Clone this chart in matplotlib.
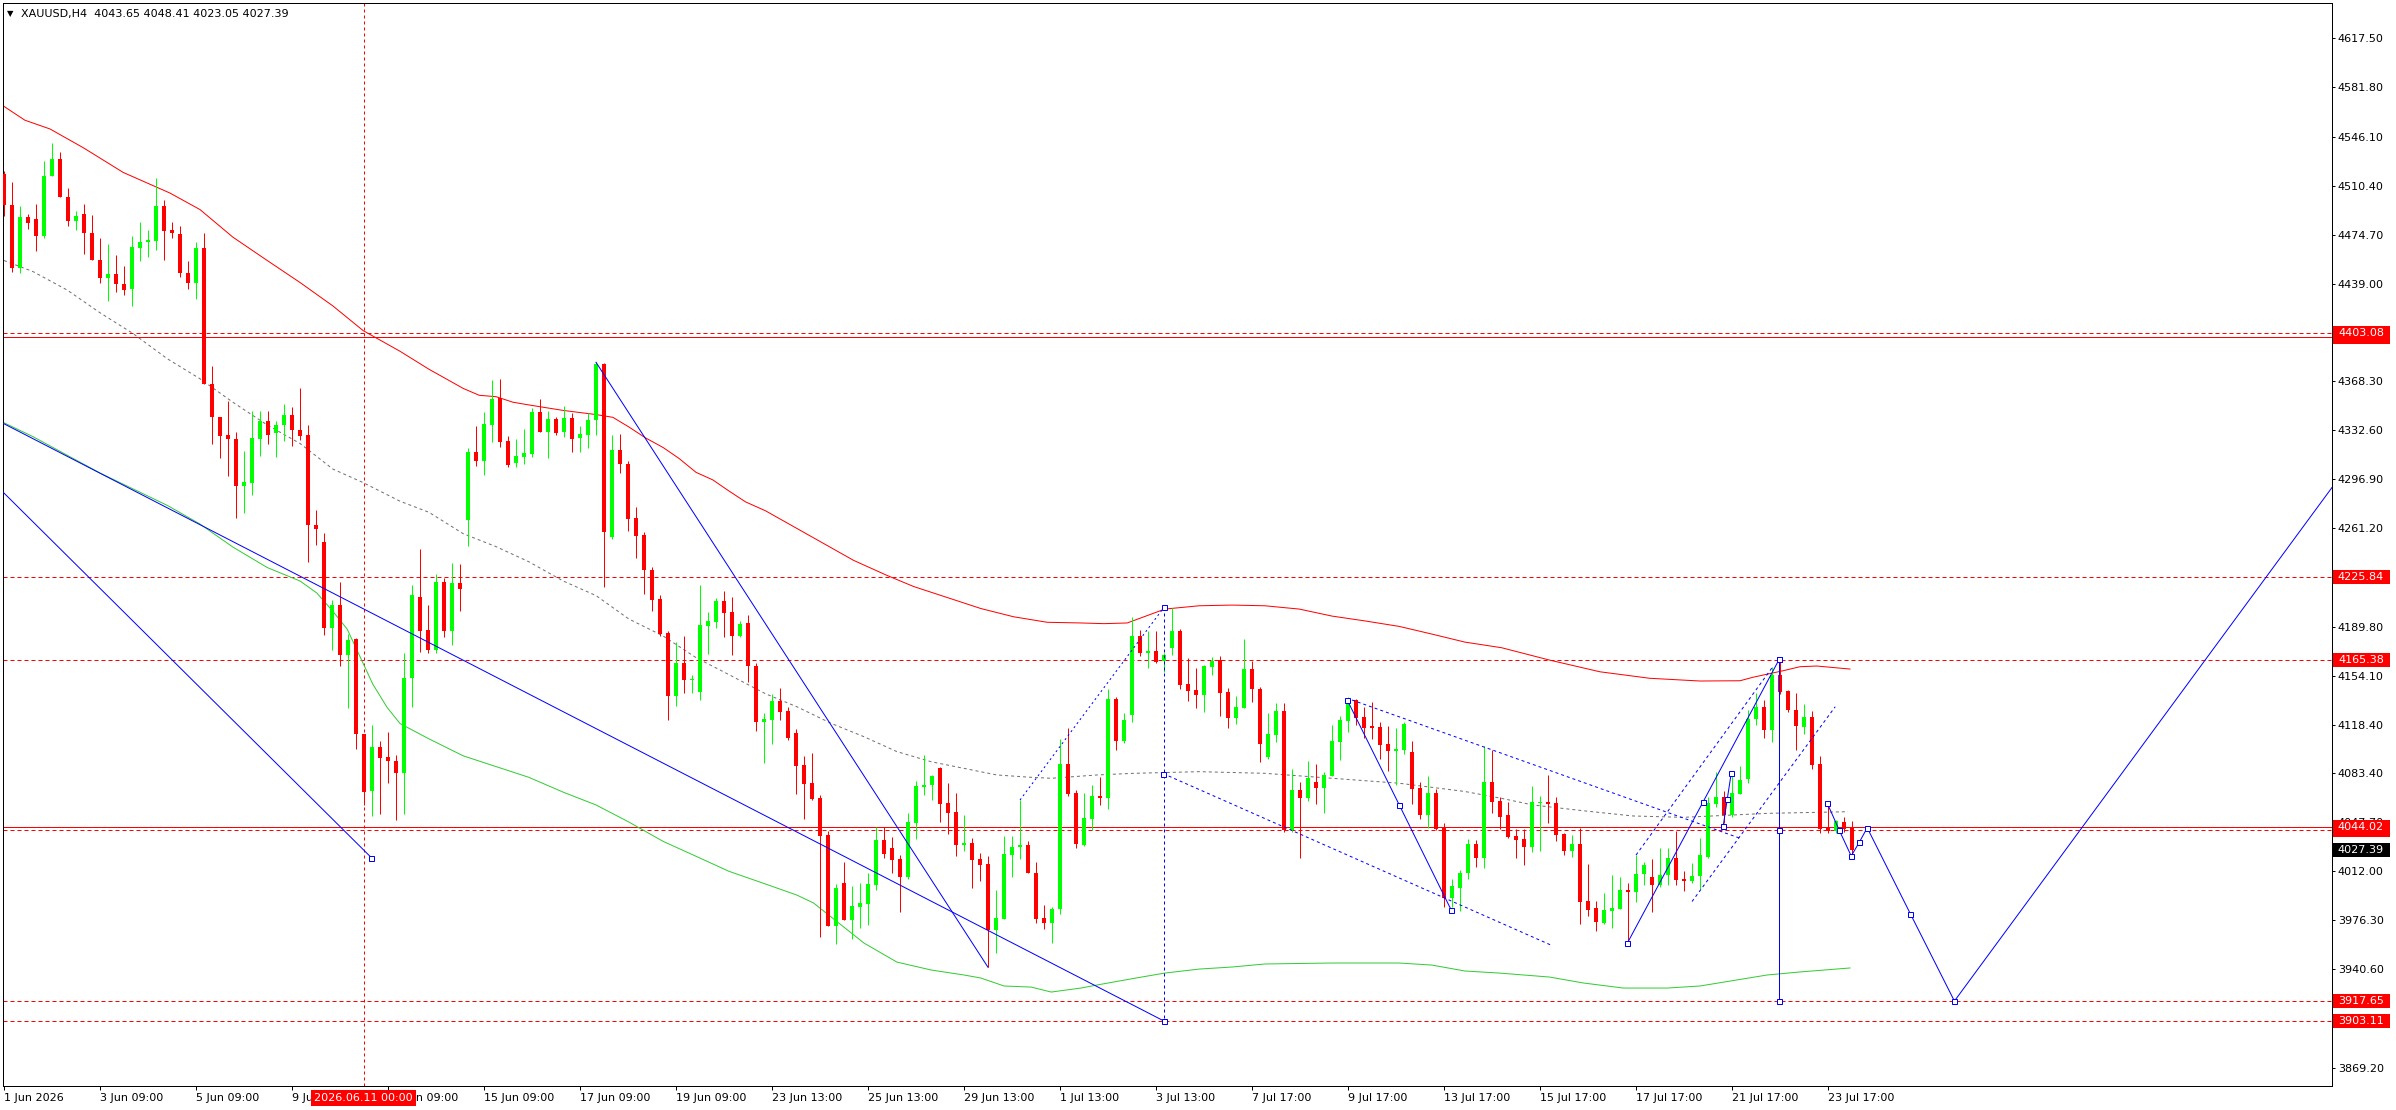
import numpy as np
import matplotlib
matplotlib.use("Agg")
import matplotlib.pyplot as plt
import matplotlib.transforms as mtransforms
from matplotlib.patches import Rectangle

W, H = 2396, 1110
PX = 0.72  # one screen pixel in points at dpi 100
BULL = "#00ff00"
BEAR = "#ff0000"
BLUE = "#0000ff"

symbol = "XAUUSD,H4"
last_ohlc = [4043.65, 4048.41, 4023.05, 4027.39]

# 4H candles, oldest first
opens = [
    4518.7, 4496.4, 4450.3, 4487.7, 4486.0, 4474.0, 4517.1, 4529.7, 4502.4, 4484.4,
    4490.0, 4476.0, 4456.7, 4443.0, 4446.3, 4439.0, 4435.6, 4465.4, 4469.4, 4470.4,
    4495.7, 4478.0, 4475.4, 4447.0, 4440.0, 4465.0, 4366.2, 4342.2, 4329.2, 4326.2,
    4291.8, 4294.5, 4326.5, 4339.2, 4330.9, 4336.5, 4343.5, 4332.5, 4329.2, 4263.8,
    4251.5, 4188.7, 4205.7, 4169.4, 4180.7, 4112.0, 4070.3, 4102.6, 4095.0, 4092.3,
    4083.4, 4152.4, 4211.4, 4187.5, 4173.2, 4222.3, 4186.3, 4221.7, 4267.6, 4316.7,
    4309.9, 4336.6, 4355.9, 4324.8, 4308.7, 4313.0, 4315.5, 4346.2, 4331.6, 4340.6,
    4331.6, 4341.6, 4326.7, 4329.5, 4339.7, 4380.4, 4254.9, 4318.3, 4308.0, 4268.9,
    4256.5, 4231.0, 4209.9, 4185.0, 4139.7, 4163.3, 4151.2, 4142.5, 4190.6, 4193.4,
    4208.6, 4200.5, 4182.8, 4192.5, 4161.1, 4120.7, 4122.2, 4135.8, 4128.5, 4112.5,
    4089.2, 4076.2, 4065.3, 4038.3, 3972.4, 4003.5, 3976.8, 3986.3, 3988.4, 4002.0,
    4034.7, 4028.9, 4020.9, 4008.1, 4047.3, 4073.5, 4075.0, 4087.1, 4061.6, 4055.1,
    4031.3, 4032.5, 4020.9, 4017.3, 3969.3, 3977.5, 4024.1, 4029.4, 4031.1, 4011.0,
    3978.0, 3974.1, 3984.3, 4090.0, 4068.9, 4031.1, 4050.2, 4066.7, 4065.5, 4137.2,
    4106.9, 4125.3, 4183.0, 4170.9, 4172.1, 4164.6, 4174.5, 4186.6, 4148.1, 4143.8,
    4140.2, 4160.7, 4165.3, 4142.3, 4123.6, 4130.9, 4159.0, 4144.5, 4095.1, 4111.0,
    4128.5, 4042.2, 4071.1, 4065.5, 4076.9, 4072.8, 4081.5, 4106.2, 4121.5, 4136.5,
    4124.1, 4117.6, 4116.9, 4104.3, 4099.7, 4100.1, 4098.7, 4072.5, 4053.1, 4069.1,
    4043.9, 3992.8, 4000.1, 4010.5, 4031.8, 4021.9, 4076.9, 4063.1, 4052.9, 4037.6,
    4035.4, 4029.6, 4061.4, 4062.6, 4061.6, 4039.3, 4027.0, 4031.8, 3990.1, 3985.0,
    3974.6, 3983.4, 3984.6, 3998.1, 3996.9, 4010.0, 4008.1, 4002.0, 4009.0, 4021.9,
    4006.4, 4004.9, 4008.5, 4022.6, 4060.9, 4066.0, 4052.9, 4068.4, 4078.8, 4122.4,
    4131.6, 4114.7, 4154.7, 4143.0, 4129.2, 4117.1, 4124.4, 4089.9, 4043.7, 4041.5,
    4047.8, 4043.65,
]
highs = [
    4521.0, 4513.1, 4495.7, 4489.7, 4497.0, 4528.1, 4541.4, 4534.8, 4508.7, 4491.7,
    4497.0, 4489.0, 4472.0, 4468.0, 4460.0, 4452.3, 4473.7, 4484.0, 4478.0, 4516.1,
    4499.7, 4484.0, 4481.4, 4455.3, 4469.4, 4476.0, 4379.6, 4342.2, 4353.9, 4331.2,
    4317.5, 4346.6, 4346.6, 4346.6, 4339.2, 4351.9, 4349.2, 4363.2, 4336.5, 4274.5,
    4258.1, 4209.4, 4222.1, 4184.4, 4181.7, 4112.0, 4118.3, 4107.0, 4113.3, 4096.6,
    4170.4, 4220.1, 4246.2, 4205.5, 4228.2, 4225.4, 4236.0, 4235.3, 4319.5, 4335.7,
    4345.9, 4369.2, 4370.2, 4328.5, 4326.4, 4333.5, 4349.0, 4355.2, 4346.9, 4342.5,
    4350.3, 4345.3, 4335.7, 4345.3, 4382.3, 4381.5, 4328.8, 4329.8, 4310.2, 4276.7,
    4258.3, 4233.2, 4212.7, 4186.6, 4178.5, 4182.8, 4154.9, 4220.4, 4200.5, 4210.8,
    4216.1, 4211.4, 4194.0, 4198.4, 4163.3, 4126.9, 4140.6, 4145.2, 4131.4, 4115.4,
    4095.8, 4098.0, 4067.4, 4041.5, 4003.0, 4018.7, 4001.5, 4003.2, 4010.5, 4044.4,
    4044.4, 4037.1, 4024.1, 4054.1, 4077.9, 4096.5, 4082.2, 4088.0, 4076.2, 4068.9,
    4052.9, 4036.2, 4025.3, 4023.1, 3998.4, 4037.9, 4037.9, 4063.8, 4034.0, 4019.0,
    3987.5, 3986.3, 4108.1, 4115.9, 4071.1, 4068.9, 4074.7, 4080.3, 4144.5, 4138.9,
    4127.0, 4196.6, 4187.4, 4186.6, 4186.6, 4170.4, 4203.1, 4187.9, 4166.8, 4159.8,
    4161.9, 4167.8, 4168.5, 4145.2, 4139.4, 4180.8, 4164.8, 4146.2, 4127.0, 4134.5,
    4134.5, 4086.3, 4077.1, 4091.9, 4090.2, 4084.4, 4118.3, 4125.1, 4138.4, 4137.5,
    4131.4, 4135.0, 4120.5, 4117.8, 4116.1, 4120.3, 4106.7, 4077.1, 4081.5, 4071.5,
    4047.1, 4006.4, 4012.9, 4035.2, 4034.5, 4103.3, 4100.4, 4066.2, 4062.6, 4042.5,
    4042.5, 4074.2, 4066.7, 4082.0, 4066.0, 4040.0, 4038.4, 4043.2, 4017.0, 3990.1,
    3996.0, 4009.0, 4007.6, 4003.2, 4023.8, 4018.5, 4021.1, 4028.9, 4028.7, 4041.3,
    4012.4, 4018.0, 4035.9, 4066.2, 4083.9, 4070.1, 4083.2, 4088.5, 4129.2, 4141.3,
    4136.5, 4160.7, 4165.4, 4143.5, 4141.3, 4133.6, 4128.5, 4096.0, 4061.4, 4049.2,
    4051.4, 4048.41,
]
lows = [
    4488.7, 4447.9, 4447.0, 4479.0, 4462.7, 4472.0, 4517.1, 4502.4, 4481.4, 4478.0,
    4461.0, 4456.7, 4439.6, 4426.3, 4433.3, 4430.6, 4422.6, 4455.3, 4458.3, 4463.7,
    4456.7, 4472.7, 4444.3, 4435.0, 4428.3, 4365.9, 4322.9, 4312.2, 4299.5, 4268.5,
    4272.8, 4285.8, 4314.2, 4322.9, 4312.9, 4324.5, 4320.9, 4325.2, 4236.8, 4249.5,
    4183.4, 4172.7, 4161.0, 4131.0, 4100.9, 4060.0, 4052.0, 4053.3, 4076.0, 4049.3,
    4053.3, 4131.6, 4171.7, 4171.0, 4170.4, 4182.5, 4176.6, 4201.5, 4248.7, 4306.5,
    4300.3, 4324.2, 4320.1, 4305.6, 4305.6, 4307.7, 4313.3, 4331.6, 4312.4, 4329.5,
    4327.6, 4316.7, 4316.7, 4319.5, 4329.5, 4218.6, 4253.4, 4301.5, 4259.0, 4240.0,
    4213.9, 4200.9, 4182.8, 4121.6, 4132.5, 4141.8, 4141.8, 4136.2, 4170.1, 4188.7,
    4182.5, 4169.5, 4182.5, 4149.9, 4114.2, 4090.9, 4104.8, 4121.9, 4107.2, 4068.4,
    4050.2, 4064.0, 3964.4, 3972.4, 3958.9, 3976.8, 3962.5, 3971.0, 3972.9, 3998.4,
    4021.9, 4010.5, 3982.6, 4006.4, 4035.7, 4067.4, 4063.8, 4048.0, 4039.3, 4023.3,
    4027.0, 4000.1, 4004.9, 3942.2, 3952.3, 3977.5, 4008.1, 4020.7, 4010.5, 3974.1,
    3969.8, 3959.6, 3980.7, 4067.0, 4028.7, 4030.4, 4042.0, 4060.2, 4057.5, 4100.1,
    4105.2, 4120.7, 4168.5, 4160.0, 4163.1, 4157.1, 4169.2, 4144.2, 4135.8, 4130.9,
    4128.0, 4154.6, 4124.9, 4116.4, 4119.3, 4130.9, 4135.3, 4091.7, 4093.6, 4106.2,
    4040.8, 4040.3, 4021.4, 4062.8, 4060.9, 4054.1, 4081.5, 4092.9, 4113.5, 4118.3,
    4108.6, 4108.4, 4093.8, 4085.1, 4074.5, 4097.5, 4060.9, 4050.0, 4043.7, 4042.0,
    3985.8, 3985.8, 3983.4, 4006.1, 4015.1, 4014.6, 4054.1, 4043.0, 4035.9, 4021.9,
    4016.5, 4026.2, 4027.0, 4047.3, 4033.7, 4023.8, 4022.6, 3973.4, 3979.7, 3968.8,
    3973.6, 3970.5, 3984.6, 3959.6, 3989.9, 4002.0, 3982.6, 4000.8, 4002.0, 4002.0,
    3997.9, 4003.2, 3999.3, 4021.4, 4059.0, 4046.8, 4051.7, 4067.9, 4076.4, 4118.5,
    4109.1, 4106.2, 4141.0, 4128.0, 4100.1, 4111.8, 4086.3, 4040.0, 4040.0, 4040.0,
    4040.3, 4023.05,
]
closes = [
    4496.4, 4450.3, 4487.7, 4483.0, 4474.0, 4517.4, 4529.7, 4502.4, 4484.4, 4488.4,
    4475.7, 4456.7, 4443.3, 4446.0, 4439.0, 4434.6, 4465.7, 4469.4, 4471.0, 4495.7,
    4477.7, 4476.0, 4446.7, 4440.0, 4465.0, 4365.9, 4341.9, 4328.2, 4325.9, 4291.8,
    4294.8, 4326.9, 4339.2, 4329.2, 4336.5, 4343.9, 4332.5, 4328.5, 4263.5, 4260.5,
    4188.7, 4205.7, 4169.4, 4180.0, 4111.6, 4069.3, 4102.6, 4094.3, 4092.3, 4083.6,
    4152.4, 4212.7, 4186.9, 4173.2, 4222.3, 4186.3, 4221.7, 4217.0, 4316.7, 4309.9,
    4337.2, 4355.2, 4323.9, 4307.4, 4313.9, 4316.1, 4346.2, 4331.6, 4340.6, 4330.7,
    4341.6, 4326.4, 4329.8, 4339.7, 4380.4, 4258.3, 4318.3, 4307.7, 4268.3, 4255.8,
    4230.7, 4209.5, 4184.4, 4139.7, 4163.3, 4151.2, 4151.8, 4190.9, 4194.0, 4208.6,
    4199.6, 4182.8, 4191.8, 4161.1, 4120.7, 4122.6, 4135.8, 4128.0, 4109.1, 4088.7,
    4075.7, 4064.5, 4037.9, 3972.4, 3999.6, 3976.8, 3986.7, 3988.7, 4002.7, 4034.7,
    4024.8, 4020.2, 4008.1, 4047.8, 4074.0, 4074.5, 4081.2, 4061.1, 4054.6, 4031.3,
    4032.3, 4020.4, 4016.8, 3969.3, 3977.8, 4024.5, 4029.9, 4030.8, 4010.5, 3977.5,
    3974.1, 3984.6, 4090.0, 4068.4, 4031.8, 4051.0, 4066.7, 4065.5, 4137.2, 4106.9,
    4122.0, 4183.0, 4170.9, 4172.1, 4164.1, 4169.0, 4186.6, 4147.4, 4143.3, 4140.2,
    4161.2, 4164.8, 4141.8, 4123.6, 4131.4, 4159.0, 4144.2, 4104.5, 4111.8, 4128.5,
    4042.2, 4071.1, 4065.5, 4079.8, 4072.8, 4082.0, 4106.7, 4121.9, 4135.0, 4123.6,
    4116.4, 4116.4, 4104.0, 4099.7, 4100.6, 4118.8, 4072.0, 4053.1, 4069.1, 4042.5,
    3992.8, 4001.3, 4010.7, 4031.8, 4021.9, 4076.9, 4062.6, 4051.7, 4037.1, 4034.7,
    4029.6, 4062.3, 4062.3, 4060.9, 4038.4, 4027.0, 4031.8, 3989.9, 3984.1, 3975.3,
    3983.8, 3985.0, 3998.1, 3996.9, 4010.0, 4016.3, 4002.0, 4009.0, 4021.9, 4005.6,
    4005.2, 4008.5, 4023.8, 4061.4, 4066.0, 4052.9, 4068.9, 4078.3, 4122.7, 4131.6,
    4114.7, 4154.7, 4142.5, 4129.2, 4117.6, 4124.4, 4089.2, 4042.5, 4041.5, 4048.3,
    4043.0, 4027.39,
]

# moving averages, sampled at bar positions
ma_red_bar = [0, 2.6, 5.75, 9.9, 14.9, 20.75, 24.5, 28.6, 32.9, 37, 41.1, 44.9, 49.5, 53.1,
              57.4, 59.4, 61.5, 63.6, 65.6, 69.9, 74, 76.1, 78.1, 80.2, 82.4, 84.4, 86.5,
              88.6, 90.6, 92.7, 95.2, 106.2, 110.4, 113.7, 117.9, 122.1, 126.2, 130.4,
              134.6, 137.5, 140.4, 145.1, 149.4, 153.5, 157.6, 161.9, 166, 170.1, 174.4,
              178.5, 182.6, 187.2, 193.2, 199.5, 205.7, 212, 217, 218.6, 222.4, 224.5,
              226.6, 230.75]
ma_red_val = [4568, 4558, 4551.6, 4538, 4520, 4505, 4493, 4473, 4456, 4440, 4423, 4405, 4390,
              4377, 4363, 4358, 4357, 4353, 4351, 4347, 4344, 4342, 4335, 4327, 4320, 4312,
              4302, 4296.5, 4288.5, 4280.5, 4274, 4238, 4227, 4219, 4211, 4203, 4197, 4193,
              4192.5, 4192, 4192.5, 4202.6, 4205, 4205.5, 4205, 4202.6, 4197.5, 4194, 4190,
              4184.4, 4178.6, 4174.5, 4165.5, 4157, 4152.3, 4150.3, 4150.5, 4153, 4157.8,
              4160.7, 4161.2, 4159]
ma_green_bar = [0, 3.6, 12, 20.4, 24.5, 28.6, 32.9, 37, 39.1, 41.1, 42.9, 44.5, 46.1, 47.9,
                49.5, 53.1, 57.4, 61.5, 65.6, 69.9, 74, 78.1, 82.4, 86.5, 90.6, 95.2, 99.1,
                101.2, 103.4, 107.5, 111.6, 115.9, 120, 122.1, 125, 128.4, 130.9, 134.6,
                136.6, 141.5, 145.1, 149.4, 153.5, 157.6, 166, 174.4, 178.5, 182.6, 186.9,
                193.2, 197.4, 202.4, 207.9, 212, 220.4, 224.5, 230.75]
ma_green_val = [4338, 4328, 4301.5, 4278, 4264.4, 4247.7, 4232.8, 4223, 4214.3, 4201, 4188,
                4168, 4148, 4131, 4119.4, 4108.3, 4095.9, 4088.1, 4080.3, 4069.5, 4060.2,
                4047.8, 4033.7, 4022.9, 4012, 4002.7, 3994.7, 3988.9, 3978.7, 3959.8, 3946,
                3940.2, 3936.6, 3934.4, 3928.6, 3927.8, 3924.2, 3927.1, 3929.3, 3934.4, 3938,
                3940.9, 3942.4, 3944.6, 3945.3, 3945.3, 3943.8, 3939.5, 3938, 3935.1, 3930.8,
                3927.1, 3927.1, 3928.6, 3936.6, 3938.8, 3941.7]
ma_gray_bar = [0, 3.6, 7.9, 12, 16.1, 20.4, 24.5, 28.6, 32.9, 37, 41.1, 44.9, 49.5, 53.1,
               57.4, 61.5, 65.6, 69.9, 74, 78.1, 82.4, 86.5, 90.6, 95.2, 99.1, 103.4, 107.5,
               111.6, 115.9, 120, 124.1, 128.4, 130.9, 136.6, 141.2, 149.4, 157.6, 166,
               174.4, 182.6, 187.2, 191.1, 197.4, 203.6, 209.9, 216.1, 220.4, 230.5]
ma_gray_val = [4456, 4448, 4434.5, 4418, 4403, 4384.6, 4370, 4353, 4336.4, 4323, 4304.4,
               4294.5, 4281, 4273, 4257.4, 4248, 4237, 4223, 4212.4, 4195.4, 4183, 4167.3,
               4155, 4141, 4131.6, 4119.5, 4109.8, 4099, 4091.6, 4086.8, 4082, 4080.3, 4079.6,
               4082, 4083.2, 4084.4, 4083.2, 4079.6, 4076, 4070, 4065, 4060.2, 4056, 4052.2,
               4051.2, 4052.9, 4054.1, 4055.3]

# horizontal levels
dashed_levels = [4403.08, 4225.84, 4165.38, 4041.80, 3917.65, 3903.11]
solid_levels = [4400.30, 4044.02]
label_levels = [4400.30, 4041.80, 4403.08, 4225.84, 4165.38, 4044.02, 3917.65, 3903.11]

# drawn objects (bar position, price)
trend_a_bar, trend_a_val = [-0.5, 145.0], [4338.8, 3903.11]
trend_b_bar, trend_b_val = [-0.5, 45.9], [4289.8, 4022.0]
trend_c_bar, trend_c_val = [74.0, 123.0], [4382.0, 3942.2]
dotted_d_bar, dotted_d_val = [127.0, 145.0], [4063.8, 4203.9]
vert_e_bar, vert_e_val = [145.0, 145.0], [4203.9, 3903.11]
chan_low_bar, chan_low_val = [144.9, 193.5], [4083.0, 3958.0]
chan_up_bar, chan_up_val = [168.5, 217.0], [4136.5, 4036.0]
trend_g_bar, trend_g_val = [167.9, 174.4, 180.9], [4136.5, 4060.3, 3983.8]
trend_h_bar, trend_h_val = [202.9, 212.4, 221.9], [3959.6, 4062.6, 4166.1]
vert_i_bar, vert_i_val = [221.9, 221.9, 221.9], [4166.1, 4042.0, 3917.65]
rise_up_bar, rise_up_val = [204.0, 221.1], [4023.8, 4160.7]
rise_low_bar, rise_low_val = [211.0, 228.9], [3990.0, 4131.6]
short_k_bar, short_k_val = [214.9, 215.4, 215.9], [4044.9, 4064.3, 4083.2]
zigzag_bar = [227.9, 229.4, 230.9, 231.9, 232.9, 238.3, 243.8, 291.0]
zigzag_val = [4061.5, 4041.9, 4023.1, 4033.0, 4043.6, 3981.0, 3917.65, 4291.0]

crosshair_bar = 44.94
crosshair_text = "2026.06.11 00:00"

price_ticks = [4617.50, 4581.80, 4546.10, 4510.40, 4474.70, 4439.00, 4403.30, 4368.30,
               4332.60, 4296.90, 4261.20, 4225.50, 4189.80, 4154.10, 4118.40, 4083.40,
               4047.70, 4012.00, 3976.30, 3940.60, 3904.90, 3869.20]
time_tick_bars = [0, 12, 24, 36, 48, 60, 72, 84, 96, 108, 120, 132, 144, 156, 168, 180,
                  192, 204, 216, 228]
time_tick_labels = ["1 Jun 2026", "3 Jun 09:00", "5 Jun 09:00", "9 Jun 09:00",
                    "11 Jun 09:00", "15 Jun 09:00", "17 Jun 09:00", "19 Jun 09:00",
                    "23 Jun 13:00", "25 Jun 13:00", "29 Jun 13:00", "1 Jul 13:00",
                    "3 Jul 13:00", "7 Jul 17:00", "9 Jul 17:00", "13 Jul 17:00",
                    "15 Jul 17:00", "17 Jul 17:00", "21 Jul 17:00", "23 Jul 17:00"]

fig = plt.figure(figsize=(W / 100, H / 100), dpi=100, facecolor="white")
ax = fig.add_axes([2.5 / W, 1 - 1086 / H, 2329.2 / W, 1083.3 / H])
ax.set_facecolor("white")
ax.set_xlim(-0.19, 290.96)
ax.set_ylim(3855.9, 4643.4)

for s in ax.spines.values():
    s.set_color("black")
    s.set_linewidth(PX)

# levels
for p in dashed_levels:
    ax.axhline(p, color=BEAR, lw=PX, dashes=(4, 3), zorder=1)
for p in solid_levels:
    ax.axhline(p, color=BEAR, lw=PX, zorder=1)
ax.axvline(crosshair_bar, color=BEAR, lw=PX, dashes=(3, 3), zorder=1)

# moving averages
ax.plot(ma_red_bar, ma_red_val, color="#ff0000", lw=PX, zorder=2)
ax.plot(ma_green_bar, ma_green_val, color="#33cc33", lw=PX, zorder=2)
ax.plot(ma_gray_bar, ma_gray_val, color="#707070", lw=PX, dashes=(3, 3), zorder=2)

# candles
o, h, l, c = map(np.array, (opens, highs, lows, closes))
x = np.arange(len(o))
cols = np.where(c >= o, BULL, BEAR)
ax.vlines(x, l, h, colors=cols, linewidth=PX, zorder=3)
ax.bar(x, np.maximum(np.abs(c - o), 0.8), bottom=np.minimum(o, c), width=0.6,
       color=cols, linewidth=0, zorder=4)

# drawings
sq = dict(marker="s", ms=3.6, mfc="white", mec=BLUE, mew=PX)
ax.plot(trend_a_bar, trend_a_val, color=BLUE, lw=PX, zorder=5)
ax.plot(trend_a_bar[-1:], trend_a_val[-1:], ls="none", zorder=6, **sq)
ax.plot(trend_b_bar, trend_b_val, color=BLUE, lw=PX, zorder=5)
ax.plot(trend_b_bar[-1:], trend_b_val[-1:], ls="none", zorder=6, **sq)
ax.plot(trend_c_bar, trend_c_val, color=BLUE, lw=PX, zorder=5)
ax.plot(dotted_d_bar, dotted_d_val, color=BLUE, lw=PX, dashes=(2, 3), zorder=5)
ax.plot(vert_e_bar, vert_e_val, color=BLUE, lw=PX, dashes=(3, 3), zorder=5)
ax.plot(vert_e_bar[:1], vert_e_val[:1], ls="none", zorder=6, **sq)
ax.plot(chan_low_bar, chan_low_val, color=BLUE, lw=PX, dashes=(3, 3), zorder=5)
ax.plot(chan_low_bar[:1], chan_low_val[:1], ls="none", zorder=6, **sq)
ax.plot(chan_up_bar, chan_up_val, color=BLUE, lw=PX, dashes=(3, 3), zorder=5)
ax.plot(rise_up_bar, rise_up_val, color=BLUE, lw=PX, dashes=(3, 3), zorder=5)
ax.plot(rise_low_bar, rise_low_val, color=BLUE, lw=PX, dashes=(3, 3), zorder=5)
for bx, by in [(trend_g_bar, trend_g_val), (trend_h_bar, trend_h_val),
               (vert_i_bar, vert_i_val), (short_k_bar, short_k_val)]:
    ax.plot(bx, by, color=BLUE, lw=PX, zorder=5)
    ax.plot(bx, by, ls="none", zorder=6, **sq)
ax.plot(zigzag_bar, zigzag_val, color=BLUE, lw=PX, zorder=5)
ax.plot(zigzag_bar[:-1], zigzag_val[:-1], ls="none", zorder=6, **sq)

# axes ticks
ax.yaxis.tick_right()
ax.set_yticks(price_ticks)
ax.set_yticklabels([f"{p:.2f}" for p in price_ticks])
ax.tick_params(axis="y", direction="out", length=3 * PX, width=PX, pad=3 * PX,
               labelsize=8, colors="black")
ax.set_xticks(time_tick_bars)
ax.set_xticklabels(time_tick_labels)
ax.tick_params(axis="x", direction="out", length=4 * PX, width=PX, pad=3 * PX,
               labelsize=8, colors="black")
for t in ax.get_xticklabels():
    t.set_ha("left")

# price labels on the scale
def price_label(p, text, face, z):
    y = ax.transData.transform((0, p))[1]
    fig.patches.append(Rectangle((2333 / W, (y - 7) / H), 57 / W, 14 / H,
                                 transform=fig.transFigure, facecolor=face,
                                 edgecolor="none", zorder=z))
    fig.text(2361 / W, y / H, text, color="white", fontsize=8, ha="center",
             va="center", zorder=z + 1)

for k, p in enumerate(label_levels):
    price_label(p, f"{p:.2f}", BEAR, 10 + 2 * k)
price_label(last_ohlc[3], f"{last_ohlc[3]:.2f}", "black", 40)

# crosshair time label
tr = mtransforms.blended_transform_factory(ax.transData, fig.transFigure)
fig.text(crosshair_bar, 1 - 1098 / H, crosshair_text, transform=tr, color="white",
         fontsize=8, ha="center", va="center", zorder=50,
         bbox=dict(boxstyle="square,pad=0.25", fc=BEAR, ec="none"))

# header
fig.text(7 / W, 1 - 14 / H, "\u25bc", fontsize=6, ha="left", va="center")
fig.text(21 / W, 1 - 14.5 / H,
         f"{symbol}  " + " ".join(f"{v:.2f}" for v in last_ohlc),
         fontsize=8, ha="left", va="center")

fig.savefig("out.png", dpi=100, facecolor="white")
